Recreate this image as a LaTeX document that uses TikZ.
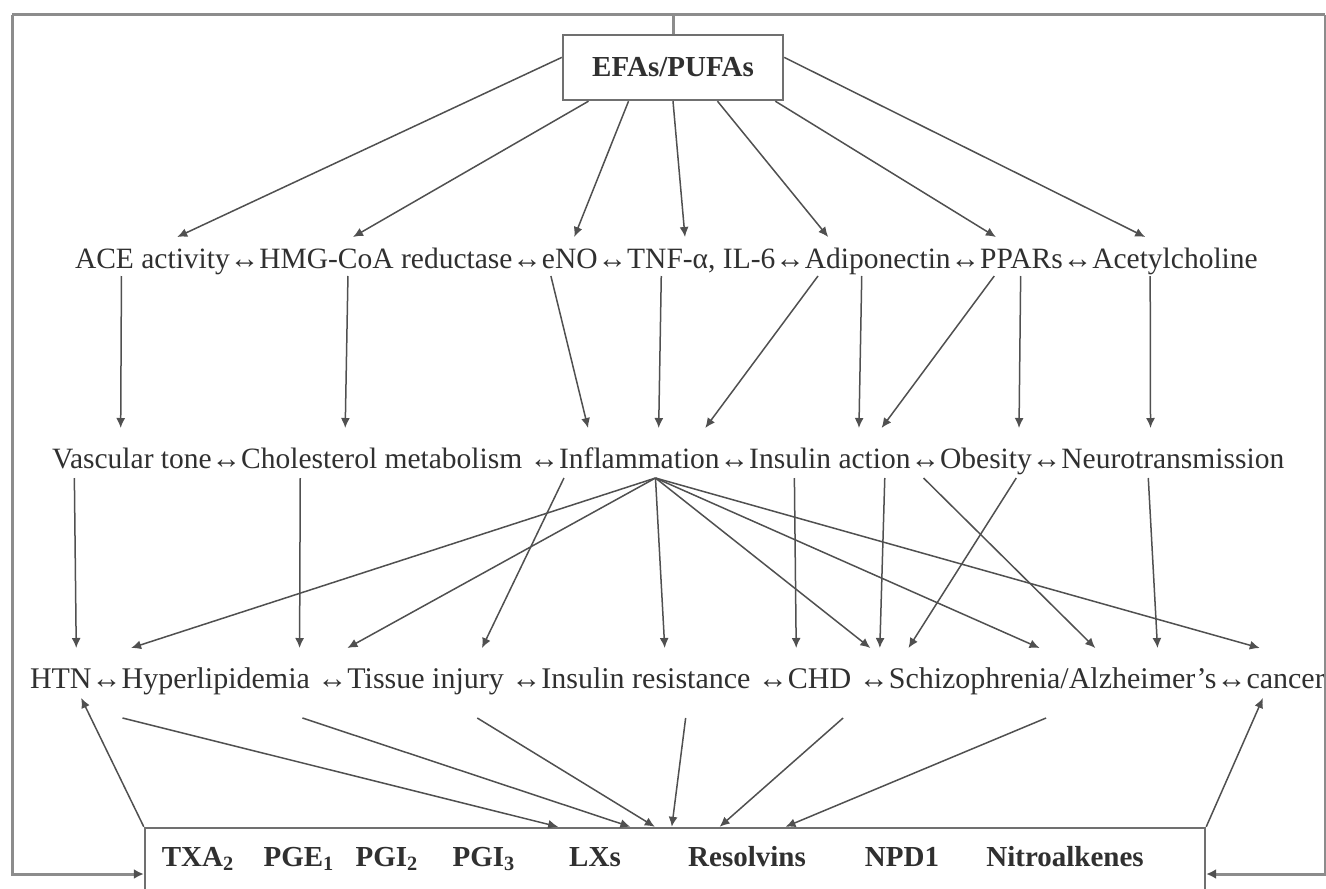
\documentclass[tikz,border=0pt]{standalone}
\usepackage{fontspec}
\setmainfont{Liberation Serif}
\usetikzlibrary{arrows.meta,calc}
\definecolor{txtc}{HTML}{303030}
\definecolor{linec}{HTML}{505050}
\definecolor{framec}{HTML}{8C8C8C}
\definecolor{boxc}{HTML}{707070}
\newcommand{\rowfont}{\fontsize{14.75}{18}\selectfont}
\newcommand{\rowfontc}{\fontsize{15}{18}\selectfont}
\newcommand{\lblfont}{\fontsize{14.5}{17}\selectfont\bfseries}
\begin{document}
\begin{tikzpicture}[x=0.5pt,y=-0.5pt,
  rt/.style={font=\rowfont,text=txtc,inner xsep=0pt,outer sep=0pt,anchor=base west,text depth=0pt},
  r1/.style={rt,text height=11.5pt,inner ysep=4pt},
  r2/.style={rt,text height=15pt,inner ysep=5pt},
  r3/.style={rt,font=\rowfontc,text height=15pt,inner ysep=5pt},
  arr/.style={draw=linec,line width=0.75pt,-{Latex[length=5pt,width=4.5pt]}},
  frame/.style={draw=framec,line width=1.5pt},
  farr/.style={frame,-{Latex[length=5pt,width=5pt,color=linec]}},
  boxst/.style={draw=boxc,line width=1.2pt,fill=white,inner sep=0pt},
  lbl/.style={font=\lblfont,text=txtc,anchor=base,inner sep=0pt}]
\useasboundingbox (0,0) rectangle (1326,888);
\fill[white] (0,0) rectangle (1326,888);

% top box
\node[boxst,minimum width=110pt,minimum height=32.5pt,font=\lblfont,text=txtc] (efa) at (673,67.5) {EFAs/PUFAs};

% row 1
\node[r1] (ace) at (75,268) {ACE activity};
\node[r1] (r1a) at (ace.base east) {↔};
\node[r1] (hmg) at (r1a.base east) {HMG-CoA reductase};
\node[r1] (r1b) at (hmg.base east) {↔};
\node[r1] (eno) at (r1b.base east) {eNO};
\node[r1] (r1c) at (eno.base east) {↔};
\node[r1] (tnf) at (r1c.base east) {TNF-α, IL-6};
\node[r1] (r1d) at (tnf.base east) {↔};
\node[r1] (adi) at (r1d.base east) {Adiponectin};
\node[r1] (r1e) at (adi.base east) {↔};
\node[r1] (ppar) at (r1e.base east) {PPARs};
\node[r1] (r1f) at (ppar.base east) {↔};
\node[r1] (ach) at (r1f.base east) {Acetylcholine};

% row 2
\node[r2] (vas) at (52,468) {Vascular tone};
\node[r2] (r2a) at (vas.base east) {↔};
\node[r2] (cho) at (r2a.base east) {Cholesterol metabolism};
\node[r2] (r2b) at (cho.base east) {~↔};
\node[r2] (inf) at (r2b.base east) {Inflammation};
\node[r2] (r2c) at (inf.base east) {↔};
\node[r2] (ins) at (r2c.base east) {Insulin action};
\node[r2] (r2d) at (ins.base east) {↔};
\node[r2] (obe) at (r2d.base east) {Obesity};
\node[r2] (r2e) at (obe.base east) {↔};
\node[r2] (neu) at (r2e.base east) {Neurotransmission};

% row 3
\node[r3] (htn) at (30,688) {HTN};
\node[r3] (r3a) at (htn.base east) {↔~};
\node[r3] (hyp) at (r3a.base east) {Hyperlipidemia};
\node[r3] (r3b) at (hyp.base east) {~↔};
\node[r3] (tis) at (r3b.base east) {Tissue injury};
\node[r3] (r3c) at (tis.base east) {~↔};
\node[r3] (ire) at (r3c.base east) {Insulin resistance};
\node[r3] (r3d) at (ire.base east) {~↔~};
\node[r3] (chd) at (r3d.base east) {CHD};
\node[r3] (r3e) at (chd.base east) {~↔};
\node[r3] (sch) at (r3e.base east) {Schizophrenia/Alzheimer’s};
\node[r3] (r3f) at (sch.base east) {↔~};
\node[r3] (can) at (r3f.base east) {cancer};

% bottom box
\node[boxst,minimum width=530pt,minimum height=46pt] (med) at (675,874) {};
\node[lbl] (m1) at (198,866) {TXA\textsubscript{2}};
\node[lbl] (m2) at (299,866) {PGE\textsubscript{1}};
\node[lbl] (m3) at (387,866) {PGI\textsubscript{2}};
\node[lbl] (m4) at (484,866) {PGI\textsubscript{3}};
\node[lbl] (m5) at (595,866) {LXs};
\node[lbl] (m6) at (747,866) {Resolvins};
\node[lbl] (m7) at (902,866) {NPD1};
\node[lbl] (m8) at (1065,866) {Nitroalkenes};

% frame
\coordinate (ftl) at (12,15);
\coordinate (ftr) at (1325,15);
\draw[frame] (ftl) -- (ftr);
\draw[frame] (efa.north) -- (efa.north |- ftl);
\draw[farr] (ftl) |- (med.west);
\draw[farr] (ftr) |- (med.east);

% EFAs -> row 1
\draw[arr] ($(efa.north west)!.35!(efa.south west)$) -- ($(ace.north west)!.66!(ace.north east)$);
\foreach \f/\t/\tf in {.12/hmg/.37, .30/eno/.58, .5/tnf/.39, .70/adi/.16, .96/ppar/.19}
  \draw[arr] ($(efa.south west)!\f!(efa.south east)$) -- ($(\t.north west)!\tf!(\t.north east)$);
\draw[arr] ($(efa.north east)!.35!(efa.south east)$) -- ($(ach.north west)!.32!(ach.north east)$);

% row 1 -> row 2
\foreach \s/\sf/\t/\tf in {ace/.30/vas/.43, hmg/.35/cho/.37, eno/.16/inf/.18, tnf/.23/inf/.62, adi/.09/inf/.91, adi/.39/ins/.68, ppar/.17/ins/.82, ppar/.49/obe/.86, ach/.35/neu/.40}
  \draw[arr] ($(\s.south west)!\sf!(\s.south east)$) -- ($(\t.north west)!\tf!(\t.north east)$);

% row 2 -> row 3
\foreach \s/\sf/\t/\tf in {vas/.14/htn/.75, cho/.21/hyp/.945, inf/.6/hyp/.05, inf/.6/tis/0, inf/.03/tis/.86, inf/.6/ire/.59, ins/.28/chd/.13, inf/.6/chd/1.3, ins/.84/chd/1.45, obe/.83/sch/.06, ins/1.08/sch/.63, inf/.6/sch/.46, neu/.39/sch/.82, inf/.6/can/.17}
  \draw[arr] ($(\s.south west)!\sf!(\s.south east)$) -- ($(\t.north west)!\tf!(\t.north east)$);

% row 3 -> box
\foreach \s/\sf/\tf in {htn/1.5/.39, hyp/.96/.458, tis/.83/.481, ire/.69/.497, chd/.87/.542, sch/.48/.604}
  \draw[arr] ($(\s.south west)!\sf!(\s.south east)+(0,-10pt)$) -- ($(med.north west)!\tf!(med.north east)$);

% box -> row 3
\draw[arr] (med.north west) -- ($(htn.south west)!.83!(htn.south east)$);
\draw[arr] (med.north east) -- ($(can.south west)!.21!(can.south east)$);
\end{tikzpicture}
\end{document}
